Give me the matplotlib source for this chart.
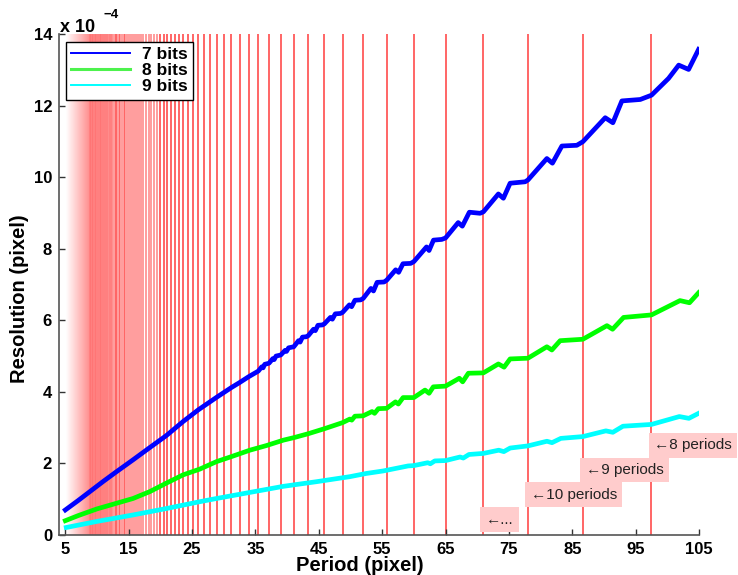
import numpy as np
import matplotlib
matplotlib.use('Agg')
import matplotlib.pyplot as plt
from matplotlib.lines import Line2D

# resolution curves, y in units of 1e-4 pixel
x_7bits = [5.0, 7.0, 9.0, 11.0, 13.0, 15.68, 18.3, 20.95, 23.58, 26.0, 28.89, 30.0, 31.2,
           32.5, 33.9, 35.45, 36.0, 36.2, 36.47, 37.14, 37.75, 37.95, 38.25, 39.0, 39.68,
           39.9, 40.23, 41.05, 41.8, 42.05, 42.42, 43.05, 43.33, 44.17, 44.45, 44.86, 45.57,
           45.88, 46.83, 47.14, 47.6, 48.4, 48.75, 49.82, 50.18, 50.7, 51.6, 52.0, 53.22,
           53.63, 54.2, 55.3, 55.71, 57.13, 57.6, 58.28, 59.5, 60.0, 62.0, 62.4, 63.1, 64.4,
           65.0, 67.0, 67.65, 68.76, 70.45, 70.97, 73.34, 74.13, 75.19, 77.56, 78.0, 80.99,
           81.87, 83.36, 85.72, 86.67, 90.2, 91.41, 92.83, 95.73, 97.5, 100.2, 101.8, 103.36,
           104.94]
y_7bits = [0.70, 0.96, 1.23, 1.50, 1.76, 2.10, 2.44, 2.78, 3.17, 3.50, 3.85, 3.98, 4.12,
           4.26, 4.42, 4.58, 4.70, 4.67, 4.77, 4.80, 4.93, 4.90, 5.00, 5.03, 5.16,
           5.13, 5.23, 5.26, 5.43, 5.39, 5.53, 5.54, 5.57, 5.75, 5.71, 5.86, 5.87,
           5.90, 6.08, 6.03, 6.18, 6.19, 6.22, 6.43, 6.38, 6.56, 6.57, 6.61, 6.89,
           6.82, 7.06, 7.07, 7.12, 7.41, 7.34, 7.58, 7.59, 7.64, 8.05, 7.95, 8.24, 8.26,
           8.30, 8.73, 8.63, 9.02, 8.99, 9.03, 9.53, 9.41, 9.83, 9.87, 9.92, 10.52,
           10.39, 10.87, 10.89, 10.99, 11.66, 11.52, 12.13, 12.17, 12.29, 12.76, 13.13, 13.01,
           13.57]

x_8bits = [5.0, 7.0, 10.0, 15.68, 18.3, 20.95, 23.58, 26.2, 28.85, 31.2, 34.12, 36.75, 39.4,
           41.05, 43.33, 45.88, 48.75, 49.9, 50.2, 50.7, 52.0, 53.4, 53.8, 54.4, 55.71, 57.1,
           57.55, 58.3, 60.0, 61.76, 62.4, 63.07, 65.0, 67.18, 67.7, 68.6, 70.97, 73.34,
           74.24, 75.19, 78.0, 80.99, 81.78, 83.09, 86.67, 90.47, 91.36, 93.1, 97.5, 102.0,
           103.5, 104.94]
y_8bits = [0.40, 0.54, 0.73, 1.02, 1.21, 1.45, 1.68, 1.84, 2.05, 2.19, 2.37, 2.50, 2.65,
           2.72, 2.83, 2.97, 3.14, 3.24, 3.21, 3.32, 3.33, 3.45, 3.40, 3.53, 3.54, 3.72,
           3.66, 3.84, 3.84, 4.05, 3.96, 4.14, 4.16, 4.38, 4.28, 4.52, 4.53, 4.78,
           4.69, 4.92, 4.94, 5.26, 5.17, 5.43, 5.47, 5.85, 5.75, 6.08, 6.15, 6.55,
           6.49, 6.77]

x_9bits = [5.15, 10.0, 15.68, 20.95, 26.2, 28.85, 34.12, 39.4, 44.65, 47.27, 49.9, 52.5,
           55.17, 59.1, 60.0, 62.2, 62.6, 63.3, 65.0, 67.3, 67.8, 68.7, 70.97, 73.4, 74.2,
           75.2, 78.0, 81.0, 81.8, 83.2, 86.67, 90.3, 91.4, 93.0, 97.5, 101.9, 103.4, 104.94]
y_9bits = [0.21, 0.38, 0.56, 0.74, 0.93, 1.02, 1.19, 1.36, 1.49, 1.56, 1.63, 1.72,
           1.79, 1.93, 1.94, 2.02, 1.99, 2.07, 2.08, 2.18, 2.15, 2.25, 2.28, 2.37, 2.33,
           2.43, 2.49, 2.62, 2.58, 2.70, 2.75, 2.91, 2.87, 3.04, 3.09, 3.31, 3.26, 3.40]

# vertical markers: period at which the 780 px line holds n whole periods
image_width = 780
n_periods = np.arange(8, 90)
labels_n = ['\u21908 periods', '\u21909 periods', '\u219010 periods', '\u2190...']
labels_x = [780 / 8, 780 / 9, 780 / 10, 780 / 11]
labels_y = [2.51, 1.82, 1.13, 0.43]

plt.rcParams['font.family'] = ['Liberation Sans', 'DejaVu Sans']
fig = plt.figure(figsize=(7.38, 5.75), dpi=100)
ax = fig.add_axes([59 / 738, 1 - 535 / 575, 640 / 738, 501 / 575])

# faded dense zone on the far left
pink = (1, 0.55, 0.55)
grad = np.ones((1, 256, 4))
grad[0, :, 1] = pink[1]
grad[0, :, 2] = pink[2]
grad[0, :, 3] = np.linspace(0, 1, 256)
ax.imshow(grad, extent=[5.1, 780 / 89, 0, 14], aspect='auto', zorder=0)
ax.axvspan(780 / 89, 780 / 63, color=pink, lw=0, zorder=0)

for n in n_periods:
    xp = image_width / n
    if xp < 12.4:
        a, w = 0.12, 0.6
    elif xp < 20:
        a, w = 0.55, 1.1
    else:
        a, w = 0.85, 1.1
    ax.axvline(xp, color=(1, 0.1, 0.1), lw=w, alpha=a, zorder=1)

ax.plot(x_7bits, y_7bits, color=(0, 0, 1), lw=3.4, zorder=3)
ax.plot(x_8bits, y_8bits, color=(0, 1, 0), lw=3.4, zorder=3)
ax.plot(x_9bits, y_9bits, color=(0, 1, 1), lw=3.4, zorder=3)

for t, xx, yy in zip(labels_n, labels_x, labels_y):
    ax.text(xx + 0.45, yy, t, ha='left', va='center', fontsize=11, color='#222222',
            bbox=dict(boxstyle='square,pad=0.35', fc='#ffcccc', ec='none'),
            clip_on=False, zorder=4)

ax.set_xlim(4, 105)
ax.set_ylim(0, 14)
ax.set_xticks([5, 15, 25, 35, 45, 55, 65, 75, 85, 95, 105])
ax.set_yticks([0, 2, 4, 6, 8, 10, 12, 14])
ax.tick_params(direction='in', length=4, width=1, labelsize=12, color='#333333', pad=5)
for lab in ax.get_xticklabels() + ax.get_yticklabels():
    lab.set_fontweight('bold')
ax.spines['top'].set_visible(False)
ax.spines['right'].set_visible(False)
for s in ['left', 'bottom']:
    ax.spines[s].set_color('#555555')
    ax.spines[s].set_linewidth(1.2)

handles = [Line2D([], [], color=(0, 0, 1), lw=1.4),
           Line2D([], [], color=(0.3, 0.95, 0.3), lw=2.2),
           Line2D([], [], color=(0, 1, 1), lw=1.4)]
leg = ax.legend(handles, ['7 bits', '8 bits', '9 bits'], loc='upper left',
                bbox_to_anchor=(66 / 738, 1 - 42 / 575), bbox_transform=fig.transFigure,
                borderaxespad=0, fancybox=False, framealpha=1, handlelength=3.4,
                labelspacing=0.05, borderpad=0.3, handletextpad=0.7,
                prop={'weight': 'bold', 'size': 12.5})
leg.get_frame().set_edgecolor('black')
leg.get_frame().set_linewidth(1.0)

fig.text(60 / 738, 1 - 32 / 575, 'x 10', fontsize=13, fontweight='bold', va='baseline')
fig.text(103 / 738, 1 - 18 / 575, '\u22124', fontsize=9.5, fontweight='bold', va='baseline')
fig.text(360 / 738, 4 / 575, 'Period (pixel)', fontsize=14.5, fontweight='bold',
         ha='center', va='baseline')
fig.text(20 / 738, 1 - 299 / 575, 'Resolution (pixel)', fontsize=14.5, fontweight='bold',
         ha='center', va='center', rotation=90)

fig.savefig('out.png', dpi=100)
